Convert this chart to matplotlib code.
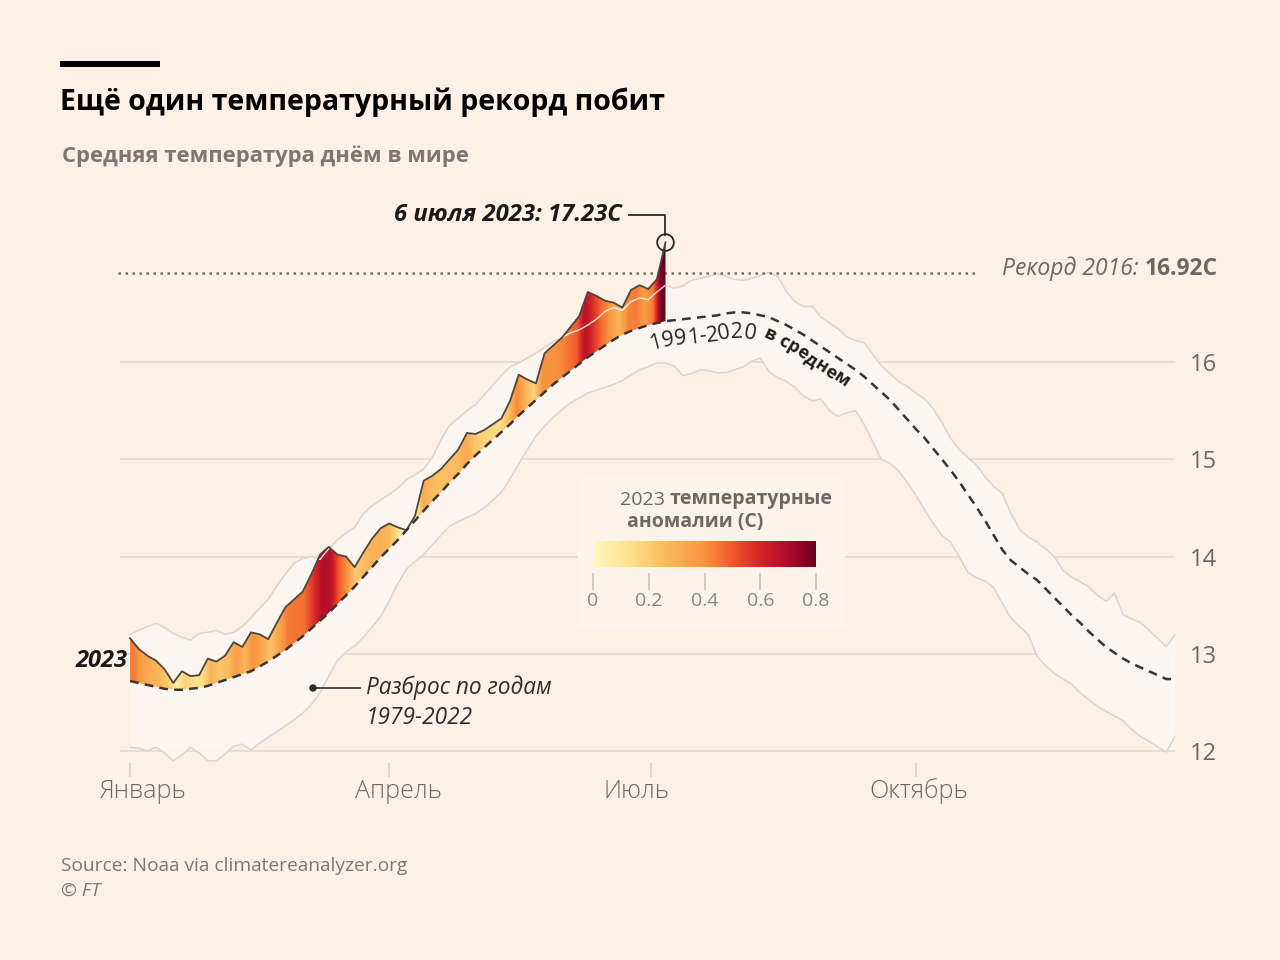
"""Global daily mean temperature: 2023 vs 1979-2022 range and 1991-2020 mean (FT style)."""

import numpy as np
import matplotlib

matplotlib.use("Agg")
import matplotlib.pyplot as plt
from matplotlib.colors import LinearSegmentedColormap, Normalize
from matplotlib.cm import ScalarMappable
from matplotlib.font_manager import FontProperties
from matplotlib.lines import Line2D
from matplotlib.patches import Rectangle, Circle
from matplotlib.path import Path
from matplotlib.transforms import IdentityTransform

plt.rcParams["font.family"] = ["Open Sans", "DejaVu Sans"]

# ---------------------------------------------------------------- data
TITLE = "Ещё один температурный рекорд побит"
SUBTITLE = "Средняя температура днём в мире"
SOURCE = "Source: Noaa via climatereanalyzer.org"
COPYRIGHT = "© FT"

days = np.arange(0, 364, 3)  # day of year, every third day

mean_1991_2020 = [
    12.72, 12.70, 12.68, 12.66, 12.64, 12.63, 12.63, 12.64, 12.65, 12.67,
    12.70, 12.73, 12.76, 12.79, 12.82, 12.87, 12.92, 12.98, 13.04, 13.11,
    13.18, 13.26, 13.34, 13.42, 13.51, 13.60, 13.69, 13.79, 13.89, 13.99,
    14.08, 14.17, 14.27, 14.37, 14.47, 14.57, 14.66, 14.76, 14.85, 14.95,
    15.04, 15.12, 15.20, 15.28, 15.36, 15.45, 15.53, 15.61, 15.69, 15.77,
    15.84, 15.91, 15.98, 16.05, 16.11, 16.17, 16.23, 16.28, 16.32, 16.35,
    16.38, 16.40, 16.42, 16.43, 16.44, 16.45, 16.46, 16.47, 16.48, 16.50,
    16.51, 16.51, 16.50, 16.48, 16.46, 16.42, 16.38, 16.33, 16.28, 16.22,
    16.16, 16.10, 16.04, 15.98, 15.92, 15.85, 15.77, 15.69, 15.61, 15.51,
    15.41, 15.31, 15.22, 15.11, 15.00, 14.89, 14.77, 14.64, 14.51, 14.37,
    14.22, 14.07, 13.96, 13.89, 13.82, 13.76, 13.67, 13.58, 13.49, 13.40,
    13.32, 13.23, 13.15, 13.07, 13.01, 12.95, 12.90, 12.86, 12.82, 12.78,
    12.74, 12.74,
]

range_max = [
    13.20, 13.24, 13.28, 13.31, 13.27, 13.21, 13.17, 13.14, 13.21, 13.22,
    13.24, 13.20, 13.22, 13.28, 13.37, 13.47, 13.56, 13.70, 13.82, 13.93,
    13.98, 14.00, 13.97, 14.08, 14.17, 14.24, 14.30, 14.44, 14.52, 14.58,
    14.64, 14.70, 14.79, 14.84, 14.90, 15.02, 15.20, 15.35, 15.42, 15.50,
    15.56, 15.66, 15.76, 15.86, 15.95, 15.99, 16.04, 16.09, 16.15, 16.21,
    16.25, 16.30, 16.33, 16.38, 16.44, 16.52, 16.56, 16.53, 16.62, 16.66,
    16.64, 16.72, 16.79, 16.76, 16.78, 16.84, 16.86, 16.88, 16.91, 16.88,
    16.85, 16.84, 16.86, 16.89, 16.92, 16.88, 16.72, 16.62, 16.57, 16.57,
    16.46, 16.40, 16.34, 16.26, 16.22, 16.20, 16.08, 15.96, 15.88, 15.80,
    15.75, 15.68, 15.62, 15.52, 15.38, 15.22, 15.10, 15.02, 14.94, 14.82,
    14.72, 14.65, 14.44, 14.28, 14.20, 14.15, 14.08, 14.00, 13.86, 13.79,
    13.74, 13.69, 13.60, 13.54, 13.62, 13.40, 13.36, 13.32, 13.24, 13.16,
    13.07, 13.20,
]

range_min = [
    12.04, 12.03, 12.00, 12.04, 11.98, 11.90, 11.96, 12.04, 11.98, 11.90,
    11.90, 11.97, 12.05, 12.07, 12.01, 12.08, 12.14, 12.20, 12.26, 12.32,
    12.39, 12.48, 12.60, 12.77, 12.93, 13.02, 13.08, 13.17, 13.27, 13.38,
    13.54, 13.72, 13.87, 13.95, 14.02, 14.12, 14.22, 14.31, 14.36, 14.40,
    14.44, 14.50, 14.58, 14.66, 14.80, 14.95, 15.10, 15.24, 15.34, 15.43,
    15.51, 15.58, 15.63, 15.68, 15.71, 15.74, 15.77, 15.81, 15.87, 15.92,
    15.95, 15.99, 15.99, 15.96, 15.86, 15.88, 15.92, 15.91, 15.89, 15.89,
    15.92, 15.95, 16.01, 16.04, 15.90, 15.84, 15.80, 15.74, 15.65, 15.60,
    15.62, 15.50, 15.44, 15.48, 15.50, 15.36, 15.18, 15.00, 14.96, 14.88,
    14.76, 14.63, 14.48, 14.34, 14.22, 14.15, 14.00, 13.84, 13.78, 13.75,
    13.68, 13.52, 13.37, 13.28, 13.20, 12.98, 12.88, 12.80, 12.74, 12.69,
    12.60, 12.53, 12.46, 12.41, 12.36, 12.31, 12.22, 12.15, 12.10, 12.04,
    11.99, 12.15,
]

temp_2023 = [
    13.16, 13.05, 12.98, 12.93, 12.84, 12.70, 12.82, 12.77, 12.78, 12.95,
    12.92, 12.98, 13.12, 13.07, 13.22, 13.20, 13.15, 13.32, 13.48, 13.56,
    13.64, 13.82, 14.02, 14.10, 14.02, 14.00, 13.89, 14.04, 14.18, 14.29,
    14.34, 14.30, 14.27, 14.42, 14.78, 14.83, 14.90, 15.00, 15.10, 15.27,
    15.26, 15.30, 15.36, 15.42, 15.60, 15.87, 15.82, 15.78, 16.09, 16.17,
    16.25, 16.36, 16.47, 16.72, 16.68, 16.63, 16.61, 16.56, 16.74, 16.79,
    16.75, 16.85, 17.23,
]

RECORD_2016 = 16.92

MONTH_DAYS = [0, 90, 181, 273]
MONTH_LABELS = ["Январь", "Апрель", "Июль", "Октябрь"]
Y_TICKS = [12, 13, 14, 15, 16]
CBAR_TICKS = [0, 0.2, 0.4, 0.6, 0.8]
CBAR_LABELS = ["0", "0.2", "0.4", "0.6", "0.8"]
ANOM_COLORS = [(0.0, "#fff8c0"), (0.15, "#fde391"), (0.3, "#fbbf63"),
               (0.5, "#f89440"), (0.62, "#f15a2c"), (0.75, "#d42226"),
               (0.88, "#ae0a2c"), (1.0, "#670021")]

# ---------------------------------------------------------------- style
W, H = 1280, 960
BG = "#fdf0e5"
GRID = "#e6ddd4"
BAND = "#fcf6f1"
BAND_EDGE = "#ddd4cc"
GREY_TXT = "#6e6864"
FAMILY = ["Open Sans", "DejaVu Sans"]

mean = np.array(mean_1991_2020)
rmax = np.array(range_max)
rmin = np.array(range_min)
t23 = np.array(temp_2023)
assert len(mean) == len(rmax) == len(rmin) == len(days)
n23 = len(t23)
d23 = days[:n23]
m23 = mean[:n23]
anom = t23 - m23

cmap = LinearSegmentedColormap.from_list("anom", ANOM_COLORS)
norm = Normalize(0, 0.8)


def fx(x):
    return x / W


def fy(y):
    return 1 - y / H


fig = plt.figure(figsize=(W / 100, H / 100), dpi=100)
fig.patch.set_facecolor(BG)
renderer = fig.canvas.get_renderer()


def text_after(prev, s, gap=0, **kw):
    """Place text s immediately to the right of text artist prev, same baseline."""
    bb = prev.get_window_extent(renderer)
    return fig.text(bb.x1 + gap, bb.y0, s, transform=IdentityTransform(),
                    ha="left", va="bottom", **kw)


def text_before(nxt, s, gap=0, **kw):
    bb = nxt.get_window_extent(renderer)
    return fig.text(bb.x0 - gap, bb.y0, s, transform=IdentityTransform(),
                    ha="right", va="bottom", **kw)


Y0, Y1 = 11.7, 17.6
ax_bottom, ax_top = 780.2, 206.4
ax = fig.add_axes([fx(120), fy(ax_bottom), (1175 - 120) / W, (ax_bottom - ax_top) / H])
ax.set_facecolor("none")
for sp in ax.spines.values():
    sp.set_visible(False)

# gridlines and right-hand axis
ax.yaxis.tick_right()
ax.set_yticks(Y_TICKS)
ax.set_yticklabels([str(t) for t in Y_TICKS])
ax.tick_params(axis="y", length=0, pad=11, labelsize=17, labelcolor=GREY_TXT)
ax.set_xticks([])
ax.grid(axis="y", color=GRID, lw=1.4)
ax.set_axisbelow(True)

# 1979-2022 range band
ax.fill_between(days, rmin, rmax, color=BAND, alpha=0.92, lw=0, zorder=1)
ax.plot(days, rmax, color=BAND_EDGE, lw=1.1, zorder=1.5)
ax.plot(days, rmin, color=BAND_EDGE, lw=1.1, zorder=1.5)

# 2016 record
ax.plot([-4.2, 295], [RECORD_2016, RECORD_2016], color="#77706b", lw=1.8,
        ls=(0, (1, 1.8)), clip_on=False, zorder=2)

# 2023 anomaly fill, coloured by (2023 - mean)
verts = np.concatenate([np.column_stack([d23, t23]),
                        np.column_stack([d23[::-1], m23[::-1]])])
clip = Path(np.vstack([verts, verts[:1]]), closed=True)
img = ax.imshow(anom[np.newaxis, :], extent=(d23[0], d23[-1], Y0, Y1),
                aspect="auto", cmap=cmap, norm=norm, interpolation="bilinear",
                origin="lower", zorder=3)
img.set_clip_path(clip, transform=ax.transData)
wl, = ax.plot(days, rmax, color="white", lw=1.0, alpha=0.85, zorder=3.5)
wl.set_clip_path(clip, transform=ax.transData)
ax.plot(d23, t23, color="#4d4540", lw=1.3, zorder=4)

# 1991-2020 mean
ax.plot(days, mean, color="#3a3532", lw=1.8, ls=(0, (3.5, 2.5)), zorder=5)

ax.set_xlim(-3.5, 363)
ax.set_ylim(Y0, Y1)

# month ticks and labels
xt = ax.get_xaxis_transform()
ax.vlines(MONTH_DAYS, 0.0056, 0.030, transform=xt, color="#d9d0c8", lw=1.2, zorder=0.6)
for d, lab, off in zip(MONTH_DAYS, MONTH_LABELS, [13, 9, -15, 3]):
    ax.annotate(lab, xy=(d, 0), xycoords=xt, xytext=(off * 0.72, -10.8 * 0.72),
                textcoords="offset points", ha="center", va="center",
                fontsize=18, color=GREY_TXT, fontweight="light")

# peak marker and callout
px, py = ax.transData.transform((d23[-1], t23[-1]))
ax.plot(d23[-1], t23[-1], "o", ms=12, mfc="none", mec="#2a2a2a", mew=1.3, zorder=6)
fig.add_artist(Line2D([px, px, px - 36], [py + 7, py + 27, py + 27],
                      transform=IdentityTransform(), color="#2a2a2a", lw=1.3))
fig.text(px - 44, py + 27, "6 июля 2023: 17.23C", transform=IdentityTransform(),
         ha="right", va="center", fontsize=17.2, fontweight="bold", style="italic",
         color="#1a1a1a")

# record label
bold_rec = fig.text(fx(1218), fy(269), "16.92C", ha="right", va="center",
                    fontsize=16.5, fontweight="bold", color=GREY_TXT)
text_before(bold_rec, "Рекорд 2016:", gap=6, fontsize=16.5, style="italic",
            color=GREY_TXT)

# 2023 label
fig.text(fx(128), fy(661), "2023", ha="right", va="center", fontsize=17,
         fontweight="bold", style="italic", color="#1a1a1a")

# range label
fig.add_artist(Line2D([313, 360], [H - 688, H - 688], transform=IdentityTransform(),
                      color="#2e2e2e", lw=1.2))
fig.add_artist(Circle((313, H - 688), 3, transform=IdentityTransform(), color="#2e2e2e"))
fig.text(fx(366), fy(688), "Разброс по годам", ha="left", va="center",
         fontsize=16.3, style="italic", color="#2e2e2e")
fig.text(fx(366), fy(718), "1979-2022", ha="left", va="center",
         fontsize=16.3, style="italic", color="#2e2e2e")

# curved label under the mean line
base = ax.transData.transform(np.column_stack([days, mean]))
tang = np.gradient(base, axis=0)
tang /= np.linalg.norm(tang, axis=1)[:, None]
normal = np.column_stack([tang[:, 1], -tang[:, 0]])


def offset_path(offset):
    pts = base + offset * normal
    seg = np.hypot(*np.diff(pts, axis=0).T)
    return np.concatenate([[0], np.cumsum(seg)]), pts


def text_along(text, start_day, offset, fp, color):
    S, P = offset_path(offset)
    s0 = np.interp(start_day, days, S)

    def tw(s):
        return renderer.get_text_width_height_descent(s, fp, ismath=False)[0]

    for i, ch in enumerate(text):
        if ch == " ":
            continue
        w = tw(ch)
        a = s0 + tw(text[:i + 1]) - w
        x, y = np.interp(a, S, P[:, 0]), np.interp(a, S, P[:, 1])
        x2, y2 = np.interp(a + w, S, P[:, 0]), np.interp(a + w, S, P[:, 1])
        ang = np.degrees(np.arctan2(y2 - y, x2 - x))
        fig.text(x, y, ch, transform=IdentityTransform(), rotation=ang,
                 rotation_mode="anchor", ha="left", va="baseline",
                 fontproperties=fp, color=color)
    return np.interp(s0 + tw(text), S, days)


fp_reg = FontProperties(family=FAMILY, size=15.5)
fp_bold = FontProperties(family=FAMILY, size=13, weight="bold")
end_day = text_along("1991-2020", 178.5, 25, fp_reg, "#262626")
S2, _ = offset_path(21)
start2 = np.interp(np.interp(end_day, days, S2) + 7, S2, days)
text_along("в среднем", start2, 21, fp_bold, "#1f1f1f")

# colour legend
fig.add_artist(Rectangle((fx(578), fy(628)), 267 / W, 150 / H, transform=fig.transFigure,
                         facecolor="#fcf3eb", edgecolor="none", zorder=1))
t1 = fig.text(fx(620), fy(500), "2023", ha="left", va="center", fontsize=14,
              color=GREY_TXT, zorder=3)
text_after(t1, "температурные", gap=5, fontsize=14, fontweight="bold",
           color=GREY_TXT, zorder=3)
fig.text(fx(627), fy(522), "аномалии (С)", ha="left", va="center", fontsize=14,
         fontweight="bold", color=GREY_TXT, zorder=3)
cax = fig.add_axes([fx(593), fy(567), 223 / W, 26 / H])
cax.set_zorder(5)
cb = fig.colorbar(ScalarMappable(norm=norm, cmap=cmap), cax=cax, orientation="horizontal")
cb.outline.set_visible(False)
cax.set_xticks([])
cxt = cax.get_xaxis_transform()
cax.vlines(CBAR_TICKS, -0.23, -0.88, transform=cxt, color="#c9c1ba", lw=1.2, clip_on=False)
for t, lab in zip(CBAR_TICKS, CBAR_LABELS):
    cax.text(t, -1.31, lab, transform=cxt, ha="center", va="center", fontsize=14,
             color="#8b857f", clip_on=False)

# title block
fig.add_artist(Rectangle((fx(60), fy(67)), 100 / W, 6 / H, transform=fig.transFigure,
                         facecolor="black", edgecolor="none"))
fig.text(fx(60), fy(102), TITLE, ha="left", va="center", fontsize=20.5,
         fontweight="bold", color="black")
fig.text(fx(62), fy(156), SUBTITLE, ha="left", va="center", fontsize=15.8,
         fontweight="bold", color="#7d7672")
fig.text(fx(61), fy(866), SOURCE, ha="left", va="center", fontsize=13.8, color="#7b7774")
fig.text(fx(61), fy(891), COPYRIGHT, ha="left", va="center", fontsize=13.8,
         style="italic", color="#7b7774")

fig.savefig("out.png", dpi=100, facecolor=BG)
